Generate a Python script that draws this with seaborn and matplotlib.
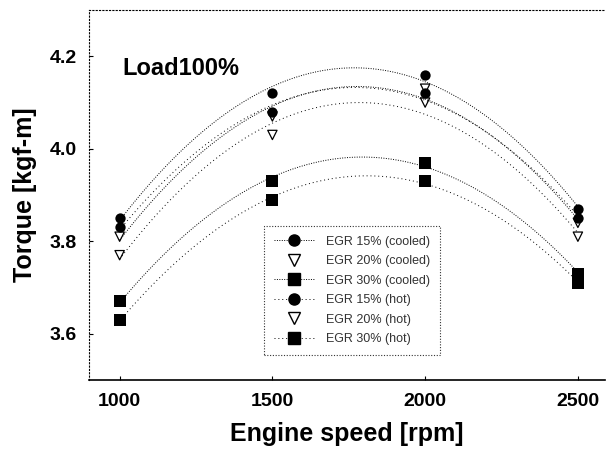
import numpy as np
import pandas as pd
import seaborn as sns
import matplotlib.pyplot as plt
from matplotlib.lines import Line2D

# engine speed points
speed = [1000, 1500, 2000, 2500]

# torque, kgf-m
egr15_cooled = [3.85, 4.12, 4.16, 3.87]
egr20_cooled = [3.81, 4.07, 4.13, 3.84]
egr30_cooled = [3.67, 3.93, 3.97, 3.73]
egr15_hot = [3.83, 4.08, 4.12, 3.85]
egr20_hot = [3.77, 4.03, 4.10, 3.81]
egr30_hot = [3.63, 3.89, 3.93, 3.71]

labels = ["EGR 15% (cooled)", "EGR 20% (cooled)", "EGR 30% (cooled)",
          "EGR 15% (hot)", "EGR 20% (hot)", "EGR 30% (hot)"]
series = [egr15_cooled, egr20_cooled, egr30_cooled, egr15_hot, egr20_hot, egr30_hot]

rows = []
for lab, vals in zip(labels, series):
    for s, v in zip(speed, vals):
        rows.append({"speed": s, "torque": v, "case": lab})
df = pd.DataFrame(rows)

sns.set_style("white")
plt.rcParams['font.family'] = ['Liberation Sans', 'DejaVu Sans']
plt.rcParams['text.color'] = 'black'
plt.rcParams['axes.labelcolor'] = 'black'

markers = ['o', 'v', 's', 'o', 'v', 's']
sizes = [55, 45, 70, 55, 45, 70]
dots = [(0, (1, 1.5)), (0, (1, 1.5)), (0, (1, 1.5)), (0, (1, 3)), (0, (1, 3)), (0, (1, 3))]

fig = plt.figure(figsize=(6.06, 4.59), dpi=100)
ax = fig.add_axes([0.147, 0.172, 0.852, 0.806])

handles = []
for i, lab in enumerate(labels):
    sub = df[df["case"] == lab]
    mk = markers[i]
    if mk == 'v':
        skw = {"s": sizes[i], "facecolors": "none", "edgecolors": "black",
               "linewidths": 0.9, "alpha": 1}
    else:
        skw = {"s": sizes[i], "color": "black", "linewidths": 0, "alpha": 1}
    sns.regplot(data=sub, x="speed", y="torque", order=2, ci=None, marker=mk,
                scatter_kws=skw,
                line_kws={"color": "black", "lw": 0.7, "linestyle": dots[i]},
                ax=ax)
    if mk == 'v':
        h = Line2D([], [], marker='v', markersize=8, markerfacecolor='none',
                   markeredgecolor='black', linestyle='none')
    else:
        h = Line2D([], [], marker=mk, markersize=8, color='black', lw=0.7,
                   linestyle=dots[i])
    handles.append(h)

ax.set_xlim(900, 2590)
ax.set_ylim(3.5, 4.3)
ax.set_xticks(speed)
ax.set_yticks([3.6, 3.8, 4.0, 4.2])
ax.set_yticklabels(["3.6", "3.8", "4.0", "4.2"])

for side in ["left", "top"]:
    ax.spines[side].set_linestyle((0, (1, 2)))
    ax.spines[side].set_linewidth(0.8)
    ax.spines[side].set_color("black")
ax.spines["bottom"].set_linewidth(1.2)
ax.spines["bottom"].set_color("black")
ax.spines["right"].set_visible(False)

ax.tick_params(direction='in', length=3, width=0.8, colors='black', labelsize=14,
               left=True, bottom=True, pad=9)
for t in ax.get_xticklabels() + ax.get_yticklabels():
    t.set_fontweight('bold')

ax.set_xlabel("Engine speed [rpm]", fontsize=18, fontweight='bold', labelpad=9)
ax.set_ylabel("Torque [kgf-m]", fontsize=18, fontweight='bold', labelpad=9)

ax.text(0.065, 0.825, "Load100%", transform=ax.transAxes, fontsize=17,
        fontweight='bold')

leg = ax.legend(handles, labels, loc='lower left', bbox_to_anchor=(0.326, 0.05),
                fontsize=9, frameon=True, fancybox=False, handlelength=3.2,
                borderpad=0.8, labelspacing=0.6, handletextpad=1.0)
leg.get_frame().set_edgecolor('black')
leg.get_frame().set_linestyle((0, (1, 1.5)))
leg.get_frame().set_linewidth(0.8)
for t in leg.get_texts():
    t.set_color('#333333')

fig.savefig("out.png", dpi=100)
